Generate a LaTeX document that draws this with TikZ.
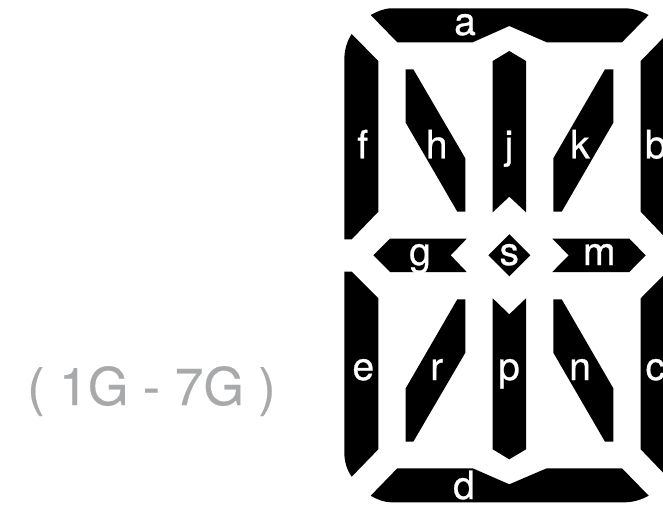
\documentclass[tikz,border=0pt]{standalone}
\usepackage{fontspec}
\setmainfont{TeX Gyre Heros}
\newfontfamily\labelfont[FakeBold=0.7]{TeX Gyre Heros}
\newfontfamily\capfont[FakeBold=0.35]{TeX Gyre Heros}
\definecolor{capgrey}{HTML}{A7A9AB}
\tikzset{
  seg/.style={fill=black,draw=none},
  seglabel/.style={text=white,font=\labelfont\fontsize{39}{39}\selectfont,anchor=base,inner sep=0pt,outer sep=0pt},
  caption/.style={text=capgrey,font=\capfont\fontsize{52}{52}\selectfont,anchor=base,inner sep=0pt,outer sep=0pt}
}
\begin{document}
\begin{tikzpicture}[x=1pt,y=-1pt]
\useasboundingbox (0,0) rectangle (663,505);
\clip (0,0) rectangle (663,505);
% a
\fill[seg] (370.7,15) .. controls (377,11.5) and (384,8.3) .. (392,8.3) -- (625,8.3) .. controls (633,8.3) and (642,11.5) .. (648.7,15) -- (622,42.3) -- (546.7,42.3) -- (509.3,26) -- (472.7,42.3) -- (397.3,42.3) -- cycle;
% d
\fill[seg] (397.3,468.3) -- (472.7,468.3) -- (509.3,484.3) -- (546.7,468.3) -- (622,468.3) -- (648.7,495.7) .. controls (642,499.5) and (633,502.3) .. (625,502.3) -- (392,502.3) .. controls (384,502.3) and (377,499.5) .. (370.7,495.7) -- cycle;
% f
\fill[seg] (351.7,34) -- (378.3,61) -- (378.3,211.7) -- (351.7,239.3) -- (344.3,239.3) -- (344.3,60) .. controls (344.3,50) and (347,41) .. (351.7,34) -- cycle;
% b
\fill[seg] (667,34) -- (640.7,61) -- (640.7,211.7) -- (667,239.3) -- (674,239.3) -- (674,60) .. controls (674,50) and (671.5,41) .. (667,34) -- cycle;
% e
\fill[seg] (344.3,271.7) -- (351.7,271.7) -- (378.3,298.3) -- (378.3,449.3) -- (351.7,476.7) .. controls (347,470) and (344.3,462) .. (344.3,452) -- cycle;
% c
\fill[seg] (674,271.7) -- (667,271.7) -- (640.7,298.3) -- (640.7,449.3) -- (667,476.7) .. controls (671.5,470) and (674,462) .. (674,452) -- cycle;
% h
\fill[seg] (405.7,69.3) -- (413.3,69.3) -- (465.3,158.3) -- (465.3,211.7) -- (457.3,211.7) -- (405.7,122.7) -- cycle;
% k
\fill[seg] (613.3,69.3) -- (605,69.3) -- (553.3,158.3) -- (553.3,211.7) -- (561.7,211.7) -- (613.3,122.7) -- cycle;
% r
\fill[seg] (465.3,299.3) -- (457.3,299.3) -- (405.7,388.3) -- (405.7,441.7) -- (413.3,441.7) -- (465.3,352.7) -- cycle;
% n
\fill[seg] (553.3,299.3) -- (561.7,299.3) -- (613.3,388.3) -- (613.3,441.7) -- (605,441.7) -- (553.3,352.7) -- cycle;
% j
\fill[seg] (509.3,51) -- (526,61) -- (526,212.3) -- (509.3,196.7) -- (492.7,212.3) -- (492.7,61) -- cycle;
% p
\fill[seg] (492.7,298.3) -- (509.3,314.3) -- (526,298.3) -- (526,449.3) -- (509.3,459.3) -- (492.7,449.3) -- cycle;
% g
\fill[seg] (373.3,255.3) -- (390,238.7) -- (466.7,238.7) -- (450.7,255.3) -- (466.7,272) -- (390,272) -- cycle;
% m
\fill[seg] (645.7,255.3) -- (629.3,238.7) -- (552.3,238.7) -- (568.7,255.3) -- (552.3,272) -- (629.3,272) -- cycle;
% s
\fill[seg] (488.3,255.3) -- (509.3,234.3) -- (530.3,255.3) -- (509.3,276.3) -- cycle;
% labels
\node[seglabel] (la) at (465,35) {a};
\node[seglabel] (lf) at (362.7,158.3) {f};
\node[seglabel] (lh) at (436.7,158.3) {h};
\node[seglabel] (lj) at (509,158.3) {j};
\node[seglabel] (lk) at (580,158.3) {k};
\node[seglabel,anchor=base west] (lb) at (645,158.3) {b};
\node[seglabel] (lg) at (420,265) {g};
\node[seglabel] (ls) at (509.3,265) {s};
\node[seglabel] (lm) at (599.3,265) {m};
\node[seglabel] (le) at (363.3,380) {e};
\node[seglabel] (lr) at (436.7,380) {r};
\node[seglabel] (lp) at (509,380) {p};
\node[seglabel] (ln) at (580,380) {n};
\node[seglabel,anchor=base west] (lc) at (645.5,380) {c};
\node[seglabel] (ld) at (464,499) {d};
\node[caption] (cap) at (151.5,405) {( 1G - 7G )};
\end{tikzpicture}
\end{document}
